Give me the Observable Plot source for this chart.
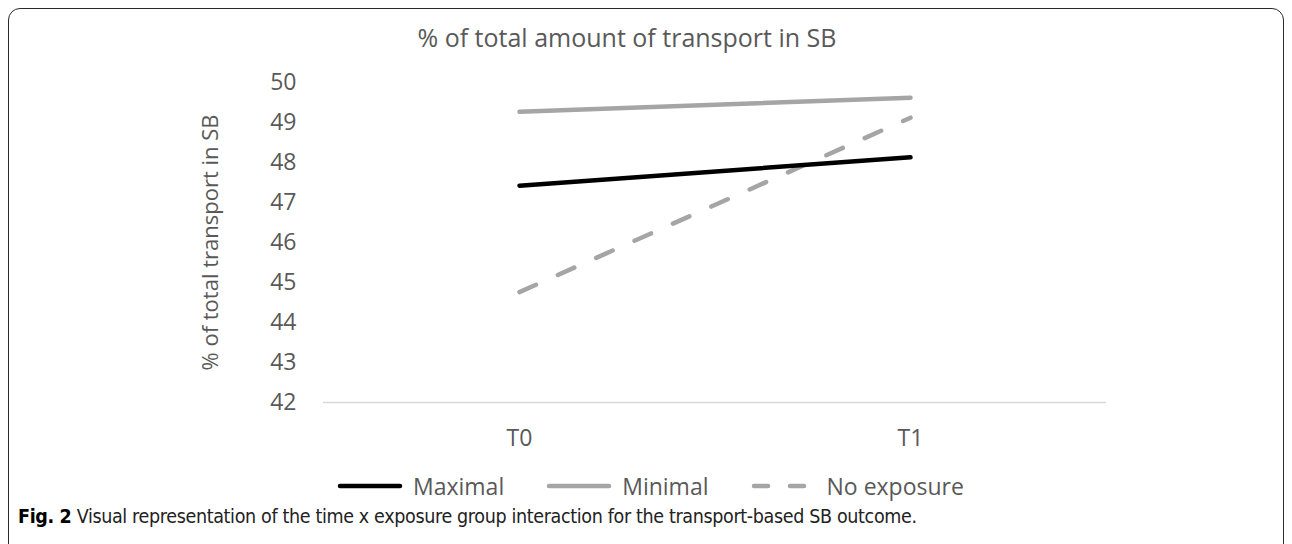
<!DOCTYPE html>
<html>
<head>
<meta charset="utf-8">
<script src="https://cdn.jsdelivr.net/npm/d3@7"></script>
<script src="https://cdn.jsdelivr.net/npm/@observablehq/plot@0.6"></script>
<style>
  html, body { margin: 0; padding: 0; background: #fff; }
  #wrap { position: relative; width: 1292px; height: 544px; overflow: hidden; background: #fff; font-family: "Open Sans", "Noto Sans", sans-serif; }
  #frame { position: absolute; left: 8px; top: 8px; width: 1274px; height: 560px; border: 1.5px solid #2a2a2a; border-radius: 12px; }
  #title { position: absolute; top: 20px; left: 0; width: 1254px; text-align: center; font-size: 25px; color: #595959; }
  #chart { position: absolute; left: 0; top: 0; }
  #legend { position: absolute; top: 470px; left: 337px; display: flex; align-items: center; font-size: 23px; color: #595959; }
  #legend .item { display: flex; align-items: center; margin-right: 42px; }
  #legend svg { margin-right: 10px; }
  #caption { position: absolute; top: 505px; left: 18px; font-family: "DejaVu Sans Condensed", "Liberation Sans Narrow", "Roboto", sans-serif; font-size: 19.5px; color: #222; letter-spacing: -0.35px; }
  #caption b { color: #000; }
</style>
</head>
<body>
<div id="wrap">
  <div id="frame"></div>
  <div id="chart"></div>
  <div id="title"></div>
  <div id="legend"></div>
  <div id="caption"></div>
</div>
<script>
const times = ["T0", "T1"];
const maximal = [47.42, 48.13];
const minimal = [49.27, 49.62];
const noExposure = [44.76, 49.12];
const yTicks = [42, 43, 44, 45, 46, 47, 48, 49, 50];
const seriesNames = ["Maximal", "Minimal", "No exposure"];
const chartTitle = "% of total amount of transport in SB";
const yLabel = "% of total transport in SB";
const captionBold = "Fig. 2";
const captionText = " Visual representation of the time x exposure group interaction for the transport-based SB outcome.";

const seriesValues = [maximal, minimal, noExposure];
const styles = {
  "Maximal": {stroke: "#000000", dash: null},
  "Minimal": {stroke: "#a5a5a5", dash: null},
  "No exposure": {stroke: "#a5a5a5", dash: "18,24"}
};

const data = [];
seriesNames.forEach((s, i) => times.forEach((t, j) => data.push({series: s, time: t, value: seriesValues[i][j]})));

const lineMark = (name) => Plot.line(data.filter(d => d.series === name), {
  x: "time", y: "value",
  stroke: styles[name].stroke,
  strokeWidth: 4.5,
  strokeLinecap: "round",
  strokeDasharray: styles[name].dash
});

const plot = Plot.plot({
  width: 1292,
  height: 460,
  marginLeft: 323,
  marginRight: 186,
  marginTop: 82,
  marginBottom: 58,
  style: {fontFamily: "'Open Sans', 'Noto Sans', sans-serif", color: "#595959", background: "transparent"},
  x: {type: "point", domain: times, padding: 0.5},
  y: {domain: [42, 50]},
  marks: [
    Plot.ruleY([42], {stroke: "#d9d9d9", strokeWidth: 1.5}),
    Plot.axisY(yTicks, {tickSize: 0, tickPadding: 27, fontSize: 23, fill: "#595959", label: null}),
    Plot.axisX(times, {tickSize: 0, tickPadding: 27, fontSize: 23, fill: "#595959", label: null}),
    Plot.text([yLabel], {frameAnchor: "left", textAnchor: "middle", lineAnchor: "middle", dx: -113, rotate: -90, fontSize: 22, fill: "#595959"}),
    lineMark("No exposure"),
    lineMark("Minimal"),
    lineMark("Maximal")
  ]
});
document.getElementById("chart").appendChild(plot);

document.getElementById("title").textContent = chartTitle;

const legend = document.getElementById("legend");
seriesNames.forEach(name => {
  const item = document.createElement("div");
  item.className = "item";
  const st = styles[name];
  item.innerHTML = `<svg width="66" height="10"><line x1="3" y1="5" x2="63" y2="5" stroke="${st.stroke}" stroke-width="4.5" stroke-linecap="round" ${st.dash ? 'stroke-dasharray="14,22"' : ''}/></svg><span>${name}</span>`;
  legend.appendChild(item);
});

const cap = document.getElementById("caption");
const b = document.createElement("b");
b.textContent = captionBold;
cap.appendChild(b);
cap.appendChild(document.createTextNode(captionText));
</script>
</body>
</html>
